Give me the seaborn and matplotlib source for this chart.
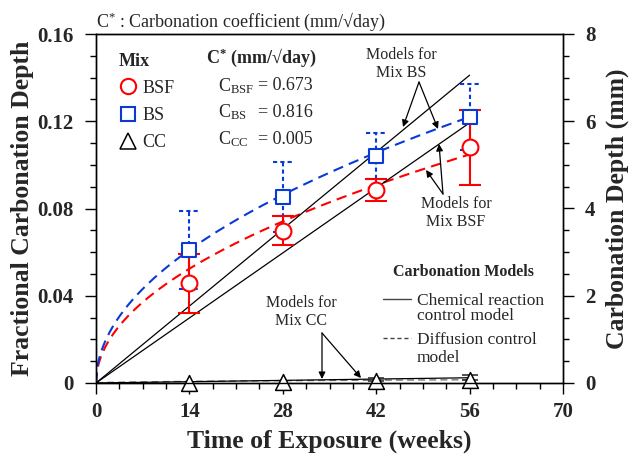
import numpy as np
import matplotlib
matplotlib.use("Agg")
import matplotlib.pyplot as plt
import seaborn as sns
from matplotlib.lines import Line2D
from matplotlib.ticker import MultipleLocator

# ---------------- data ----------------
weeks = [14, 28, 42, 56]
bsf_mean = [0.0457, 0.0699, 0.0885, 0.1080]
bsf_err = [0.0135, 0.0066, 0.0052, 0.0172]
bs_mean = [0.0610, 0.0852, 0.1040, 0.1220]
bs_err = [0.0180, 0.0160, 0.0105, 0.0150]
cc_mean = [0.0000, 0.0003, 0.0010, 0.0015]
cc_err = [0.0000, 0.0000, 0.0014, 0.0020]

mixes = ["BSF", "BS", "CC"]
coef_values = ["0.673", "0.816", "0.005"]
# model coefficients (fractional depth)
diff_k = [0.0140, 0.0163, 0.0002]        # per sqrt(week)
chem_k = [0.00213, 0.00252, 0.000043]    # per week
model_end = 56

x_ticks = [0, 14, 28, 42, 56, 70]
y_ticks = [0, 0.04, 0.08, 0.12, 0.16]
y_labels = ["0", "0.04", "0.08", "0.12", "0.16"]
y2_ticks = [0, 2, 4, 6, 8]

model_first = ["Chemical reaction", "Diffusion control"]
model_second = ["control model", "model"]

RED = "#ff0000"
BLUE = "#0a3ad6"

# ---------------- style ----------------
sns.set_theme(style="ticks")
plt.rcParams["font.family"] = ["Liberation Serif", "DejaVu Serif"]
plt.rcParams["mathtext.fontset"] = "custom"
plt.rcParams["mathtext.rm"] = "Liberation Serif"
plt.rcParams["mathtext.it"] = "Liberation Serif:italic"
plt.rcParams["mathtext.bf"] = "Liberation Serif:bold"
plt.rcParams["axes.linewidth"] = 1.0
plt.rcParams["axes.edgecolor"] = "black"

W, H = 629, 459
fig = plt.figure(figsize=(W / 100, H / 100), dpi=100)
L, R, T, B = 96, 563, 34, 383
ax = fig.add_axes([L / W, 1 - B / H, (R - L) / W, (B - T) / H])


def axf(px, py):
    return ((px - L) / (R - L), (B - py) / (B - T))


t = np.linspace(0, model_end, 300)
colors = [RED, BLUE, "#777777"]
for k, c in zip(diff_k, colors):
    sns.lineplot(x=t, y=k * np.sqrt(t), ax=ax, color=c, lw=1.5 if c != "#777777" else 1.0,
                 linestyle=(0, (5, 3)), estimator=None, sort=False, zorder=2)
for k in chem_k:
    sns.lineplot(x=t, y=k * t, ax=ax, color="black", lw=0.9,
                 estimator=None, sort=False, zorder=2)

# BS error bars (dotted)
wx = np.array(weeks, dtype=float)
bsm = np.array(bs_mean)
bse = np.array(bs_err)
ax.vlines(wx, bsm - bse, bsm + bse, colors=BLUE, linestyles=(0, (2, 1.5)), lw=1.5, zorder=3)
ax.hlines(bsm + bse, wx - 1.5, wx + 1.5, colors=BLUE, linestyles=(0, (2, 1.5)), lw=1.5, zorder=3)
ax.hlines(bsm - bse, wx - 1.5, wx + 1.5, colors=BLUE, linestyles=(0, (2, 1.5)), lw=1.5, zorder=3)

# BSF error bars (solid)
ax.errorbar(weeks, bsf_mean, yerr=bsf_err, fmt="none", ecolor=RED, elinewidth=1.5,
            capsize=8, capthick=1.5, zorder=4)
# CC error bars
ax.errorbar(weeks[2:], cc_mean[2:], yerr=[[0, 0], cc_err[2:]], fmt="none", ecolor="#333333",
            elinewidth=1.0, capsize=6, capthick=1.2, zorder=3, clip_on=False)

sns.scatterplot(x=weeks, y=bs_mean, ax=ax, marker="s", s=110, facecolor="white",
                edgecolor=BLUE, linewidth=1.5, zorder=6, clip_on=False)
sns.scatterplot(x=weeks, y=bsf_mean, ax=ax, marker="o", s=130, facecolor="white",
                edgecolor=RED, linewidth=1.5, zorder=6, clip_on=False)
sns.scatterplot(x=weeks, y=cc_mean, ax=ax, marker="^", s=130, facecolor="white",
                edgecolor="black", linewidth=1.1, zorder=6, clip_on=False)

# ---------------- axes ----------------
ax.set_xlim(0, 70)
ax.set_ylim(0, 0.16)
ax.set_xticks(x_ticks)
ax.set_yticks(y_ticks, labels=y_labels)
ax.xaxis.set_minor_locator(MultipleLocator(3.5))
ax.yaxis.set_minor_locator(MultipleLocator(0.01))
ax.tick_params(axis="both", which="major", direction="out", length=8, width=1,
               labelsize=15, color="black")
ax.tick_params(axis="both", which="minor", direction="out", length=4.5, width=1, color="black")
ax.tick_params(axis="x", pad=6)
ax.tick_params(axis="y", pad=8)
ax.tick_params(top=False, right=False, which="both")
for lab in ax.get_xticklabels() + ax.get_yticklabels():
    lab.set_fontweight("bold")
for s in ax.spines.values():
    s.set_visible(True)
    s.set_color("black")

ax.set_xlabel("Time of Exposure (weeks)", fontsize=18.5, fontweight="bold")
ax.xaxis.set_label_coords(0.5, axf(0, 430)[1])
ax.set_ylabel("Fractional Carbonation Depth", fontsize=18.5, fontweight="bold")
ax.yaxis.set_label_coords(axf(34, 0)[0], 0.5)

ax2 = ax.twinx()
ax2.set_ylim(0, 8)
ax2.set_yticks(y2_ticks)
ax2.yaxis.set_minor_locator(MultipleLocator(0.5))
ax2.tick_params(axis="y", which="major", direction="out", length=8, width=1,
                labelsize=15, pad=8, color="black")
ax2.tick_params(axis="y", which="minor", direction="out", length=4.5, width=1, color="black")
for lab in ax2.get_yticklabels():
    lab.set_fontweight("bold")
ax2.set_ylabel("Carbonation Depth (mm)", fontsize=18.5, fontweight="bold")
ax2.yaxis.set_label_coords(axf(606, 0)[0], 0.5)
for s in ax2.spines.values():
    s.set_color("black")

# ---------------- legends / texts ----------------
fig.text(L / W, 1 - 22 / H, "C$^{*}$ : Carbonation coefficient (mm/\u221aday)",
         fontsize=13, ha="left", va="center")

mix_handles = [
    Line2D([], [], marker="o", ls="none", markersize=11, markerfacecolor="white",
           markeredgecolor=RED, markeredgewidth=1.5),
    Line2D([], [], marker="s", ls="none", markersize=10, markerfacecolor="white",
           markeredgecolor=BLUE, markeredgewidth=1.5),
    Line2D([], [], marker="^", ls="none", markersize=11, markerfacecolor="white",
           markeredgecolor="black", markeredgewidth=1.1),
]
leg1 = ax.legend(mix_handles, mixes, loc="upper left", bbox_to_anchor=axf(106, 40),
                 frameon=False, fontsize=13, title="Mix", alignment="left",
                 title_fontproperties={"weight": "bold", "size": 13},
                 handlelength=1.0, handletextpad=0.32, labelspacing=0.56, borderpad=0.2)
ax.add_artist(leg1)

ax.text(*axf(206, 58), "C$^{\\mathbf{*}}$ (mm/\u221aday)", transform=ax.transAxes,
        fontsize=13, fontweight="bold", ha="left", va="center")
row_y = [86, 112.5, 139]
for m, v, yy in zip(mixes, coef_values, row_y):
    ax.text(*axf(218, yy), "C$_{\\mathrm{%s}}$" % m, transform=ax.transAxes,
            fontsize=13, ha="left", va="center")
    ax.text(*axf(258, yy), "= " + v, transform=ax.transAxes,
            fontsize=13, ha="left", va="center")

ax.text(*axf(463, 272), "Carbonation Models", transform=ax.transAxes,
        fontsize=11.5, fontweight="bold", ha="center", va="center")
model_handles = [Line2D([], [], color="#444444", lw=1.0),
                 Line2D([], [], color="#444444", lw=1.0, ls=(0, (3, 2)))]
leg2 = ax.legend(model_handles, model_first,
                 loc="upper left", bbox_to_anchor=axf(371, 281), frameon=False,
                 fontsize=12.5, handlelength=1.6, handletextpad=0.33,
                 labelspacing=1.32, borderpad=0.2)
for txt, yy in zip(model_second, [316.5, 357.5]):
    ax.text(*axf(417, yy), txt, transform=ax.transAxes, fontsize=12.5,
            ha="left", va="center")

# annotations
ap = dict(arrowstyle="-|>", color="black", lw=0.9, mutation_scale=10, shrinkA=0, shrinkB=0)


def dxy(px, py):
    return ((px - L) / (R - L) * 70, (B - py) / (B - T) * 0.16)


ax.annotate("", xy=dxy(403, 127), xytext=dxy(419, 82), arrowprops=ap)
ax.annotate("", xy=dxy(438, 129), xytext=dxy(419, 82), arrowprops=ap)
ax.text(*dxy(401, 64), "Models for\nMix BS", fontsize=11.5, ha="center", va="center",
        linespacing=1.1)

ax.annotate("", xy=dxy(439, 144), xytext=dxy(443, 194), arrowprops=ap)
ax.annotate("", xy=dxy(426, 170), xytext=dxy(443, 194), arrowprops=ap)
ax.text(*dxy(456, 213), "Models for\nMix BSF", fontsize=11.5, ha="center", va="center",
        linespacing=1.1)

ax.annotate("", xy=dxy(322, 379), xytext=dxy(322, 333), arrowprops=ap)
ax.annotate("", xy=dxy(361, 378), xytext=dxy(322, 333), arrowprops=ap)
ax.text(*dxy(301, 312), "Models for\nMix CC", fontsize=11.5, ha="center", va="center",
        linespacing=1.1)

fig.savefig("out.png", dpi=100)
